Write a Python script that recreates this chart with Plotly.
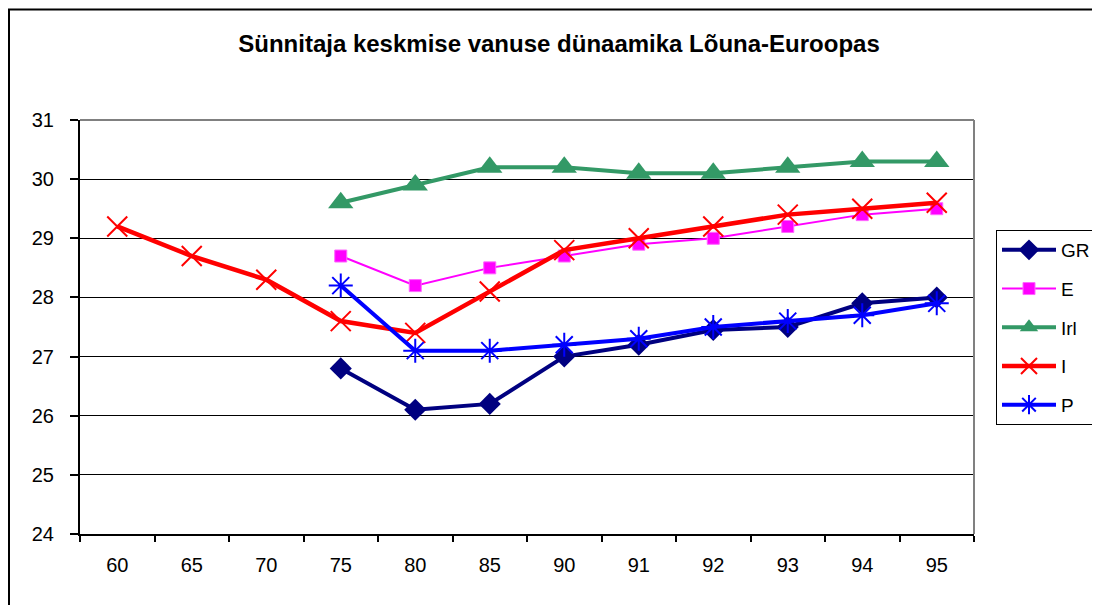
import plotly.graph_objects as go

categories = ["60", "65", "70", "75", "80", "85", "90", "91", "92", "93", "94", "95"]
gr = [None, None, None, 26.8, 26.1, 26.2, 27.0, 27.2, 27.45, 27.5, 27.9, 28.0]
e = [None, None, None, 28.7, 28.2, 28.5, 28.7, 28.9, 29.0, 29.2, 29.4, 29.5]
irl = [None, None, None, 29.6, 29.9, 30.2, 30.2, 30.1, 30.1, 30.2, 30.3, 30.3]
i_ = [29.2, 28.7, 28.3, 27.6, 27.4, 28.1, 28.8, 29.0, 29.2, 29.4, 29.5, 29.6]
p = [None, None, None, 28.2, 27.1, 27.1, 27.2, 27.3, 27.5, 27.6, 27.7, 27.9]
y_ticks = [24, 25, 26, 27, 28, 29, 30, 31]

series = [
    ("GR", gr, "#000080", 4, dict(symbol="diamond", size=17, color="#000080")),
    ("E", e, "#FF00FF", 2, dict(symbol="square", size=12, color="#FF00FF",
                                line=dict(color="#FF66FF", width=1))),
    ("Irl", irl, "#339966", 4, dict(symbol="triangle-up", size=22, color="#339966")),
    ("I", i_, "#FF0000", 4.5, dict(symbol="x-thin-open", size=20, color="#FF0000",
                                   line=dict(color="#FF0000", width=2))),
    ("P", p, "#0000FF", 4, dict(symbol="asterisk-open", size=20, color="#0000FF",
                                line=dict(color="#0000FF", width=2))),
]

# page offset of the figure (body margin)
OFF = 8
L, T, W, H = 80 - OFF, 120 - OFF, 894, 414
R = 1100 - L - W
B = 605 - T - H
PB = T + H  # plot bottom in figure px


def px_x(fx):
    return (fx - L) / W


def px_y(fy):
    return (PB - fy) / H


fig = go.Figure()
for name, vals, col, lw, mk in series:
    fig.add_trace(go.Scatter(
        x=categories, y=vals, name=name, mode="lines+markers",
        line=dict(color=col, width=lw), marker=mk, legendgroup=name,
        connectgaps=False,
    ))

fig.update_layout(
    width=1100, height=605,
    margin=dict(l=L, r=R, t=T, b=B, autoexpand=False),
    paper_bgcolor="white", plot_bgcolor="white",
    font=dict(family="Liberation Sans, Arial, sans-serif", size=20, color="black"),
    title=dict(text="<b>Sünnitaja keskmise vanuse dünaamika Lõuna-Euroopas</b>",
               x=(559 - OFF) / 1100, xanchor="center", y=1 - (44 - OFF) / 605,
               yanchor="middle", yref="container", xref="container",
               font=dict(size=24, color="black")),
    showlegend=True,
    legend=dict(x=px_x(996 - OFF), xanchor="left", y=px_y(230 - OFF), yanchor="top",
                bordercolor="black", borderwidth=1, bgcolor="white",
                font=dict(size=19), tracegroupgap=11, traceorder="grouped",
                itemwidth=54),
    shapes=[
        dict(type="line", xref="paper", yref="paper", x0=0, x1=1, y0=1, y1=1,
             line=dict(color="#808080", width=2), layer="above"),
        dict(type="line", xref="paper", yref="paper", x0=1, x1=1, y0=0, y1=1,
             line=dict(color="#808080", width=2), layer="above"),
        dict(type="rect", xref="paper", yref="paper",
             x0=px_x(1), x1=px_x(1200), y0=px_y(700), y1=px_y(1.5),
             line=dict(color="black", width=2), layer="below"),
    ],
)

fig.update_xaxes(
    type="category", categoryorder="array", categoryarray=categories,
    range=[-0.5, len(categories) - 0.5],
    tickson="boundaries", ticks="outside", ticklen=6, tickwidth=2, tickcolor="black",
    showline=True, linecolor="black", linewidth=2, showgrid=False,
    tickfont=dict(size=20), zeroline=False, ticklabelstandoff=12,
)
fig.update_yaxes(
    range=[24, 31], tickvals=y_ticks, ticks="outside", ticklen=8, tickwidth=2,
    tickcolor="black", showline=True, linecolor="black", linewidth=2,
    showgrid=True, gridcolor="black", gridwidth=1, zeroline=False,
    tickfont=dict(size=20), ticklabelstandoff=12,
)

fig.write_html("out.html")
